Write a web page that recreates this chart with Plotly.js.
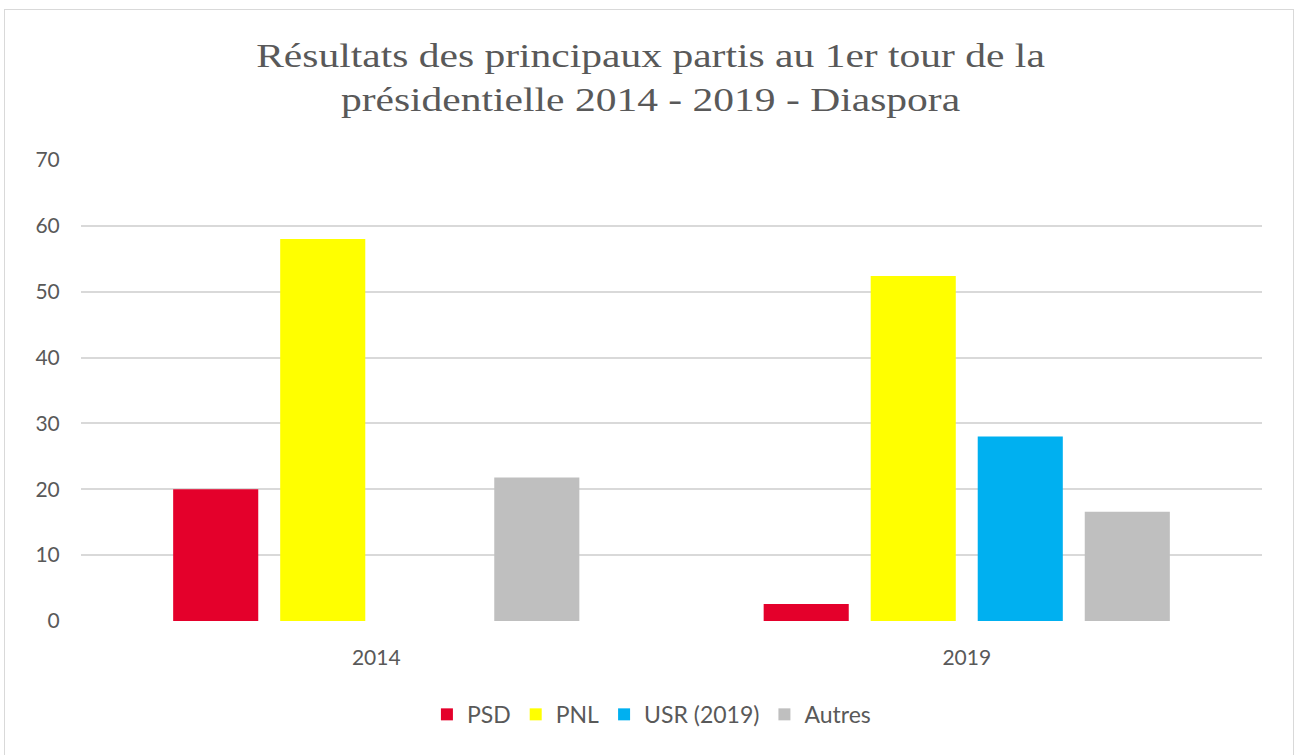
<!DOCTYPE html>
<html>
<head>
<meta charset="utf-8">
<script src="https://cdn.plot.ly/plotly-3.0.1.min.js"></script>
<style>
  html, body { margin: 0; padding: 0; background: #ffffff; }
  #frame { position: absolute; left: 4px; top: 9px; width: 1290px; height: 760px; border: 1px solid #d9d9d9; box-sizing: border-box; pointer-events: none; z-index: 5; }
  #chart { width: 1301px; height: 755px; }
</style>
</head>
<body>
<div id="frame"></div>
<div id="chart"></div>
<script>
const categories = ['2014', '2019'];
const seriesNames = ['PSD', 'PNL', 'USR (2019)', 'Autres'];
const psd = [20.0, 2.6];
const pnl = [58.0, 52.4];
const usr = [null, 28.0];
const autres = [21.8, 16.6];
const yTicks = [0, 10, 20, 30, 40, 50, 60, 70];

const colors = ['#E4002B', '#FFFF00', '#00B0F0', '#BFBFBF'];
const values = [psd, pnl, usr, autres];

const traces = values.map((v, i) => ({
  type: 'bar',
  name: seriesNames[i],
  x: categories,
  y: v,
  marker: { color: colors[i], line: { width: 0 } },
  hoverinfo: 'x+y+name'
}));

const labelFont = { family: 'Lato, Carlito, sans-serif', size: 21, color: '#595959' };

const layout = {
  width: 1301,
  height: 755,
  paper_bgcolor: '#ffffff',
  plot_bgcolor: '#ffffff',
  margin: { l: 81, r: 39, t: 160, b: 133.5 },
  barmode: 'group',
  bargap: 0.275,
  bargroupgap: 0.205,
  title: {
    text: 'Résultats des principaux partis au 1er tour de la<br>présidentielle 2014 - 2019 - Diaspora',
    font: { family: 'Liberation Serif, Times New Roman, serif', size: 33.5, color: '#595959' },
    x: 0.5, xanchor: 'center',
    y: 1 - 67 / 755, yref: 'container', yanchor: 'middle'
  },
  xaxis: {
    type: 'category',
    tickvals: categories,
    ticktext: categories,
    showgrid: false,
    showline: false,
    zeroline: false,
    ticks: 'outside',
    ticklen: 18,
    tickcolor: 'rgba(0,0,0,0)',
    tickfont: labelFont
  },
  yaxis: {
    range: [0, 70],
    tickvals: yTicks,
    ticktext: yTicks.map(String),
    showgrid: true,
    gridcolor: '#d9d9d9',
    gridwidth: 2,
    zeroline: false,
    showline: false,
    ticks: 'outside',
    ticklen: 16,
    tickcolor: 'rgba(0,0,0,0)',
    tickfont: labelFont
  },
  showlegend: true,
  legend: {
    orientation: 'h',
    x: 0.483, xanchor: 'center',
    y: (621.5 - 715) / 461.5, yanchor: 'middle',
    font: { family: 'Lato, Carlito, sans-serif', size: 23, color: '#595959' },
    itemwidth: 30,
    traceorder: 'normal'
  }
};

Plotly.newPlot('chart', traces, layout, { displayModeBar: false, staticPlot: true }).then(gd => {
  // the reference title is horizontally stretched; stretch the real text element the same way
  const t = gd.querySelector('.gtitle');
  if (t) {
    const cx = parseFloat(t.getAttribute('x')) || 650.5;
    t.setAttribute('transform', 'translate(' + cx + ',0) scale(1.24,1) translate(' + (-cx) + ',0)');
  }
});
</script>
</body>
</html>
